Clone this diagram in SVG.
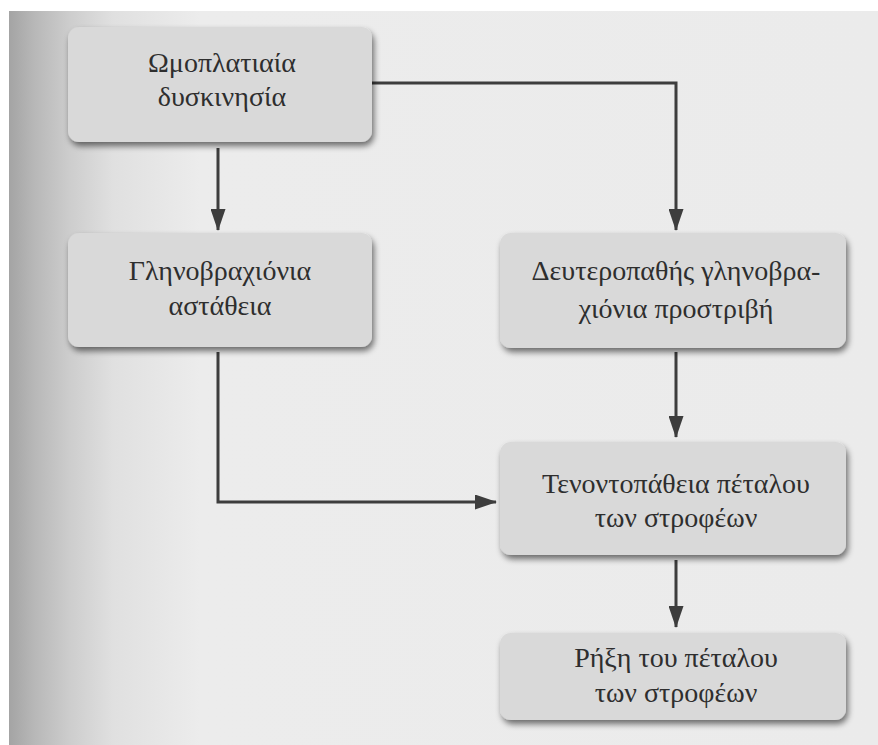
<svg xmlns="http://www.w3.org/2000/svg" width="878" height="745" viewBox="0 0 878 745">
<defs>
<linearGradient id="page" x1="0" y1="0" x2="1" y2="0">
<stop offset="0" stop-color="#a4a4a4"/>
<stop offset="0.03" stop-color="#b8b8b8"/>
<stop offset="0.07" stop-color="#cdcdcd"/>
<stop offset="0.12" stop-color="#e0e0e0"/>
<stop offset="0.22" stop-color="#ececec"/>
<stop offset="1" stop-color="#ebebeb"/>
</linearGradient>
<filter id="sh" x="-10%" y="-10%" width="125%" height="140%">
<feGaussianBlur in="SourceAlpha" stdDeviation="3"/>
<feOffset dx="2" dy="4" result="b"/>
<feComponentTransfer><feFuncA type="linear" slope="0.55"/></feComponentTransfer>
<feMerge><feMergeNode/><feMergeNode in="SourceGraphic"/></feMerge>
</filter>
<marker id="av" viewBox="0 0 22 15" refX="21" refY="7.5" markerWidth="22" markerHeight="15" markerUnits="userSpaceOnUse" orient="auto">
<path d="M0,0 L22,7.5 L0,15 Z" fill="#3d3d3d"/>
</marker>
<style>
.box{fill:#d9d9d9;filter:url(#sh)}
.t{font-family:"Liberation Serif","DejaVu Serif",serif;font-size:28px;fill:#2e2e2e;text-anchor:middle}
.c{fill:none;stroke:#3d3d3d;stroke-width:3}
</style>
</defs>
<rect x="0" y="0" width="878" height="745" fill="#ffffff"/>
<rect x="9" y="11" width="869" height="734" fill="url(#page)"/>
<g id="connectors">
<path class="c" d="M218,148 L218,230" marker-end="url(#av)"/>
<path class="c" d="M372,83 L676,83 L676,230" marker-end="url(#av)"/>
<path class="c" d="M676,352 L676,437" marker-end="url(#av)"/>
<path class="c" d="M218,352 L218,502 L496,502" marker-end="url(#av)"/>
<path class="c" d="M676,560 L676,627" marker-end="url(#av)"/>
</g>
<g id="n1">
<rect class="box" x="68" y="27" width="304" height="115" rx="11"/>
<text class="t" x="222" y="72">Ωμοπλατιαία</text>
<text class="t" x="222" y="106">δυσκινησία</text>
</g>
<g id="n2">
<rect class="box" x="68" y="233" width="304" height="114" rx="11"/>
<text class="t" x="220" y="280">Γληνοβραχιόνια</text>
<text class="t" x="220" y="315">αστάθεια</text>
</g>
<g id="n3">
<rect class="box" x="500" y="233" width="346" height="115" rx="11"/>
<text class="t" x="676" y="280">Δευτεροπαθής γληνοβρα-</text>
<text class="t" x="676" y="318">χιόνια προστριβή</text>
</g>
<g id="n4">
<rect class="box" x="500" y="442" width="346" height="113" rx="11"/>
<text class="t" x="676" y="493">Τενοντοπάθεια πέταλου</text>
<text class="t" x="676" y="527">των στροφέων</text>
</g>
<g id="n5">
<rect class="box" x="500" y="633" width="346" height="87" rx="11"/>
<text class="t" x="676" y="667">Ρήξη του πέταλου</text>
<text class="t" x="676" y="702">των στροφέων</text>
</g>
</svg>
